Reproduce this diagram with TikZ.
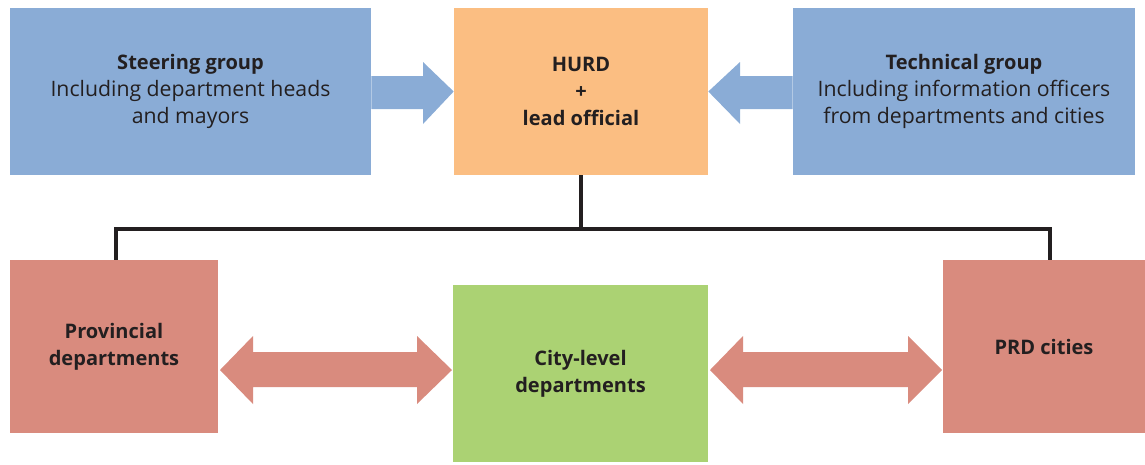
\documentclass[tikz,border=0pt]{standalone}
\usepackage{fontspec}
\setmainfont{Open Sans}
\newcommand{\plainline}[1]{{\fontsize{12.1}{15.5}\selectfont #1}}
\begin{document}
\begin{tikzpicture}[x=0.02cm,y=-0.02cm,
  box/.style={inner sep=0pt, align=center, text=txt, font=\fontsize{11.4}{15.5}\selectfont},
  link/.style={draw=txt, line width=1.8pt}]
\definecolor{bluebox}{RGB}{138,172,214}
\definecolor{orangebox}{RGB}{251,190,130}
\definecolor{redbox}{RGB}{217,139,126}
\definecolor{greenbox}{RGB}{171,210,115}
\definecolor{txt}{RGB}{35,31,32}
\useasboundingbox (0,0) rectangle (1145,464);

% top row
\node[box, fill=bluebox, minimum width=7.22cm, minimum height=3.34cm] (steer) at (190.5,91.5)
  {\textbf{Steering group}\\\plainline{Including department heads}\\\plainline{and mayors}};
\node[box, fill=orangebox, minimum width=5.08cm, minimum height=3.34cm] (hurd) at (581,91.5)
  {\textbf{HURD}\\\textbf{+}\\\textbf{lead official}};
\node[box, fill=bluebox, minimum width=6.84cm, minimum height=3.34cm] (tech) at (964,91.5)
  {\textbf{Technical group}\\\plainline{Including information officers}\\\plainline{from departments and cities}};

% bottom row
\node[box, fill=redbox, minimum width=4.16cm, minimum height=3.46cm] (prov) at (114,346.5)
  {\textbf{Provincial}\\\textbf{departments}};
\node[box, fill=greenbox, minimum width=5.10cm, minimum height=3.54cm] (city) at (580.5,373.5)
  {\textbf{City-level}\\\textbf{departments}};
\node[box, fill=redbox, minimum width=4.04cm, minimum height=3.46cm] (prd) at (1044,346.5)
  {\textbf{PRD cities}};

% block arrows into the lead box
\fill[bluebox] (steer.east |- 0,76) -- (423,76) -- (423,62) -- (hurd.west) -- (423,124)
  -- (423,109) -- (steer.east |- 0,109) -- cycle;
\fill[bluebox] (tech.west |- 0,76) -- (740,76) -- (740,62) -- (hurd.east) -- (740,124)
  -- (740,109) -- (tech.west |- 0,109) -- cycle;

% two-way block arrows on the bottom row
\fill[redbox] (220,370) -- (253,336) -- (253,352) -- (417,352) -- (417,336) -- (452,370)
  -- (417,404) -- (417,387) -- (253,387) -- (253,404) -- cycle;
\fill[redbox] (710,370) -- (743,336) -- (743,352) -- (908,352) -- (908,336) -- (942,370)
  -- (908,404) -- (908,387) -- (743,387) -- (743,404) -- cycle;

% connector tree
\coordinate (jl) at (116,229);
\coordinate (jr) at (1050,229);
\draw[link] (hurd.south) -- (hurd.south |- jl);
\draw[link] (prov.north -| jl) -- (jl) -- (jr) -- (prd.north -| jr);
\end{tikzpicture}
\end{document}
